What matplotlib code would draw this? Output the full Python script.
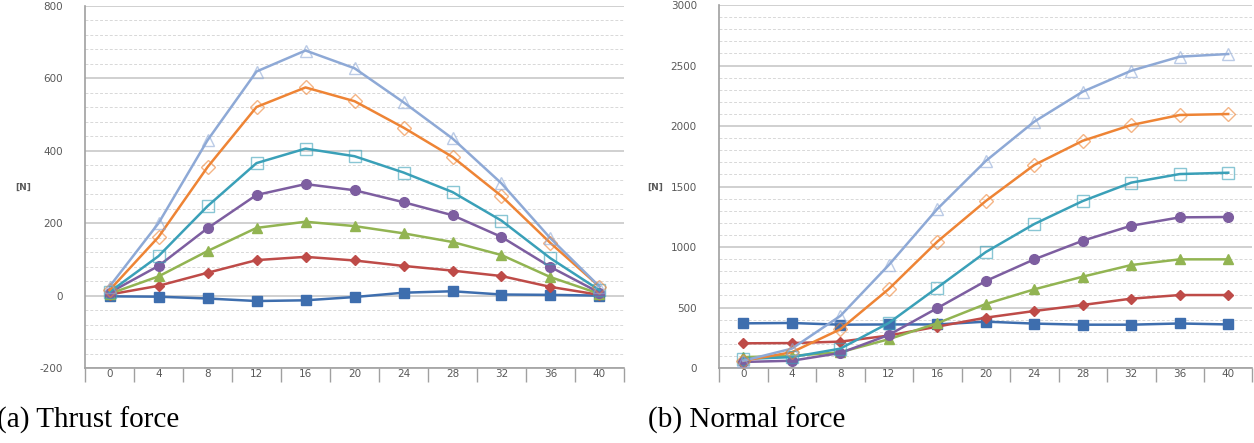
import numpy as np
import matplotlib
matplotlib.use("Agg")
from matplotlib import pyplot as plt
from matplotlib.ticker import MultipleLocator, FixedLocator, NullFormatter

plt.rcParams["axes.unicode_minus"] = False

# x categories (shared by both panels)
CATS = ["0", "4", "8", "12", "16", "20", "24", "28", "32", "36", "40"]

# (a) thrust force [N]
THRUST_BLUE = [-2, -3, -8, -15, -13, -4, 8, 12, 3, 2, 0]
THRUST_RED = [3, 27, 63, 98, 107, 97, 82, 69, 54, 24, 2]
THRUST_GREEN = [5, 53, 123, 187, 204, 192, 172, 148, 112, 51, 5]
THRUST_PURPLE = [8, 82, 186, 278, 308, 291, 258, 222, 162, 79, 8]
THRUST_TEAL = [10, 109, 247, 366, 406, 385, 340, 286, 207, 103, 15]
THRUST_ORANGE = [15, 162, 355, 521, 575, 537, 464, 383, 275, 145, 25]
THRUST_LBLUE = [25, 200, 429, 619, 677, 628, 534, 434, 310, 158, 25]

# (b) normal force [N]
NORMAL_BLUE = [369, 372, 358, 360, 360, 383, 367, 358, 358, 368, 360]
NORMAL_RED = [204, 206, 218, 268, 342, 416, 471, 521, 573, 603, 603]
NORMAL_GREEN = [90, 100, 130, 238, 370, 529, 650, 755, 851, 898, 898]
NORMAL_PURPLE = [50, 60, 124, 273, 495, 719, 898, 1052, 1176, 1245, 1248]
NORMAL_TEAL = [74, 90, 160, 372, 664, 958, 1190, 1380, 1532, 1603, 1614]
NORMAL_ORANGE = [60, 130, 320, 653, 1044, 1380, 1678, 1878, 2008, 2091, 2099]
NORMAL_LBLUE = [60, 160, 430, 851, 1314, 1711, 2036, 2284, 2457, 2573, 2595]

# (color, marker, filled)
STYLES = [
    ("#3E6EAE", "s", True),
    ("#BE4B48", "D", True),
    ("#92B452", "^", True),
    ("#7D5EA0", "o", True),
    ("#3AA0B8", "s", False),
    ("#EE8435", "D", False),
    ("#8EA9D6", "^", False),
]

GRID = "#C8C8C8"
TXT = "#595959"


def draw_panel(ax, series, ymin, ymax, major, minor):
    x = np.arange(len(CATS))
    for vals, (c, m, filled) in zip(series, STYLES):
        ms = 5.5 if m == "D" else 7
        if filled:
            ax.plot(x, vals, color=c, lw=1.8, marker=m, ms=ms, mfc=c, mec=c, zorder=3)
        else:
            ax.plot(x, vals, color=c, lw=1.8, zorder=3)
            ax.plot(x, vals, ls="none", marker=m, ms=ms + 1.5, mfc="none",
                    mec=c, mew=1.0, alpha=0.6, zorder=4)
    ax.set_xlim(-0.5, len(CATS) - 0.5)
    ax.set_ylim(ymin, ymax)
    ax.yaxis.set_major_locator(MultipleLocator(major))
    ax.yaxis.set_minor_locator(MultipleLocator(minor))
    ax.grid(True, which="major", axis="y", color=GRID, lw=1.2)
    ax.grid(True, which="minor", axis="y", color="#D8D8D8", lw=0.7, ls=(0, (3, 2)))
    ax.set_axisbelow(True)
    ax.xaxis.set_major_locator(FixedLocator(x))
    ax.set_xticklabels(CATS)
    ax.xaxis.set_minor_locator(FixedLocator(np.arange(len(CATS) + 1) - 0.5))
    ax.xaxis.set_minor_formatter(NullFormatter())
    ax.tick_params(axis="x", which="major", length=0, pad=1, labelsize=7.5, colors=TXT)
    ax.tick_params(axis="x", which="minor", length=10, color="#A0A0A0", width=1)
    ax.tick_params(axis="y", which="both", length=0, pad=16, labelsize=7.5, colors=TXT)
    for s in ["top", "right"]:
        ax.spines[s].set_visible(False)
    ax.spines["left"].set_color("#A0A0A0")
    ax.spines["bottom"].set_color("#A0A0A0")
    ax.spines["left"].set_linewidth(1.2)
    ax.spines["bottom"].set_linewidth(1.2)


fig = plt.figure(figsize=(12.54, 4.43), dpi=100)
ax1 = fig.add_axes([0.0678, 0.1693, 0.4298, 0.8172])
ax2 = fig.add_axes([0.5734, 0.1693, 0.4254, 0.8194])

draw_panel(ax1, [THRUST_BLUE, THRUST_RED, THRUST_GREEN, THRUST_PURPLE,
                 THRUST_TEAL, THRUST_ORANGE, THRUST_LBLUE], -200, 800, 200, 40)
draw_panel(ax2, [NORMAL_BLUE, NORMAL_RED, NORMAL_GREEN, NORMAL_PURPLE,
                 NORMAL_TEAL, NORMAL_ORANGE, NORMAL_LBLUE], 0, 3000, 500, 100)

fig.text(0.012, 0.577, "[N]", fontsize=6.5, fontweight="bold", color=TXT, va="center")
fig.text(0.516, 0.577, "[N]", fontsize=6.5, fontweight="bold", color=TXT, va="center")

fig.text(-0.002, 0.034, "(a) Thrust force", family="Liberation Serif", fontsize=21,
         va="baseline", color="black")
fig.text(0.5167, 0.034, "(b) Normal force", family="Liberation Serif", fontsize=21,
         va="baseline", color="black")

fig.savefig("out.png", dpi=100)
